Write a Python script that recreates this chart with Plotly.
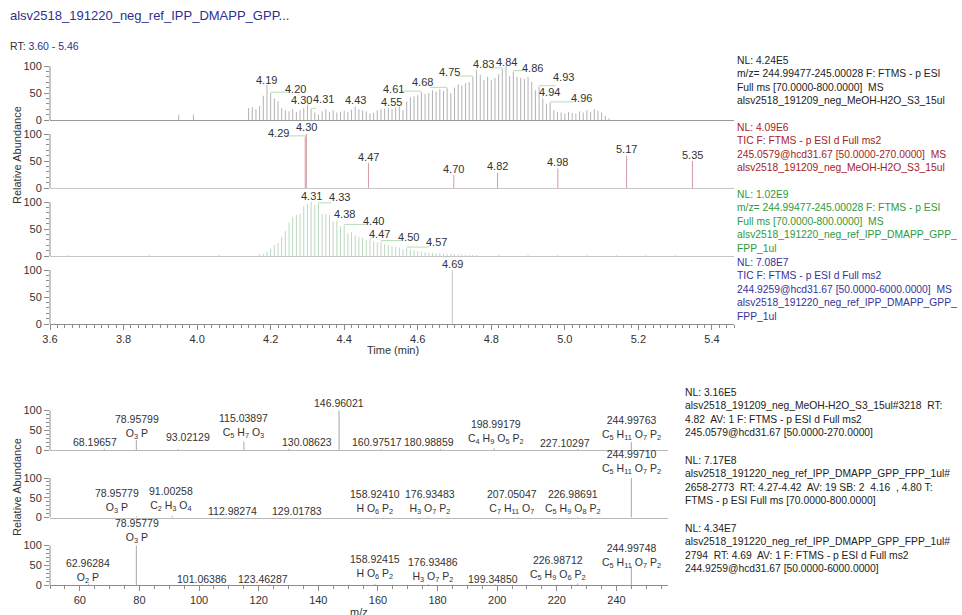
import re
import plotly.graph_objects as go

W, H = 962, 615

# ---------------------------------------------------------------------------
# Chromatograms (relative abundance, % vs retention time, min)
# ---------------------------------------------------------------------------
# 1) sample MeOH-H2O_S3: XIC m/z 244.99477-245.00028, Full MS
xic_smp_rt = [3.95, 3.99,
              4.14, 4.15, 4.16, 4.17, 4.18, 4.19, 4.20, 4.21, 4.22, 4.23,
              4.24, 4.25, 4.26, 4.27, 4.28, 4.29, 4.30, 4.31, 4.32, 4.33,
              4.34, 4.35, 4.36, 4.37, 4.38, 4.39, 4.40, 4.41, 4.42, 4.43,
              4.44, 4.45, 4.46, 4.47, 4.48, 4.49, 4.50, 4.51, 4.52, 4.53,
              4.54, 4.55, 4.56, 4.57, 4.58, 4.59, 4.60, 4.61, 4.62, 4.63,
              4.64, 4.65, 4.66, 4.67, 4.68, 4.69, 4.70, 4.71, 4.72, 4.73,
              4.74, 4.75, 4.76, 4.77, 4.78, 4.79, 4.80, 4.81, 4.82, 4.83,
              4.84, 4.85, 4.86, 4.87, 4.88, 4.89, 4.90, 4.91, 4.92, 4.93,
              4.94, 4.95, 4.96, 4.97, 4.98, 4.99, 5.00, 5.01, 5.02, 5.03,
              5.04, 5.05, 5.06, 5.07, 5.08, 5.09, 5.10, 5.11, 5.12]
xic_smp_ab = [10, 10,
              22, 24, 20, 26, 45, 65, 50, 40, 35, 22,
              18, 16, 20, 15, 18, 22, 28, 20, 14, 10,
              16, 20, 15, 18, 14, 15, 17, 15, 19, 25,
              20, 18, 16, 12, 13, 18, 20, 21, 22, 20,
              23, 25, 18, 34, 42, 44, 46, 52, 48, 50,
              55, 53, 57, 54, 59, 50, 60, 66, 64, 68,
              70, 80, 92, 84, 74, 80, 74, 78, 85, 95,
              100, 82, 90, 80, 78, 76, 80, 70, 55, 62,
              40, 30, 32, 18, 15, 14, 12, 15, 13, 12,
              16, 14, 18, 15, 20, 17, 14, 8, 3]
xic_smp_peaks = [4.19, 4.20, 4.30, 4.31, 4.43, 4.55, 4.61, 4.68,
                 4.75, 4.83, 4.84, 4.86, 4.93, 4.94, 4.96]

# 2) sample: TIC, MS2 of 245.0579@hcd31.67
tic_smp_rt = [4.294, 4.297, 4.466, 4.698, 4.817, 4.981, 5.168, 5.347]
tic_smp_ab = [95, 100, 46, 24, 28, 36, 60, 50]
tic_smp_peaks = tic_smp_rt

# 3) reference IPP/DMAPP/GPP/FPP mix: XIC m/z 244.99477-245.00028
xic_ref_rt = [3.65, 3.87, 4.06,
              4.17, 4.18, 4.19, 4.20, 4.21, 4.22, 4.23, 4.24, 4.25, 4.26,
              4.27, 4.28, 4.29, 4.30, 4.31, 4.32, 4.33, 4.34, 4.35, 4.36,
              4.37, 4.38, 4.39, 4.40, 4.41, 4.42, 4.43, 4.44, 4.45, 4.46,
              4.47, 4.48, 4.49, 4.50, 4.51, 4.52, 4.53, 4.54, 4.55, 4.56,
              4.57, 4.58, 4.59, 4.60, 4.61, 4.62, 4.63, 4.64, 4.65, 4.66,
              4.67, 4.68, 4.69, 4.70, 4.71, 4.72, 4.73, 4.74, 4.75, 4.76,
              4.82, 4.90, 4.98, 5.06, 5.14, 5.22, 5.30]
xic_ref_ab = [1.5, 1.5, 2,
              3, 4, 8, 14, 20, 24, 35, 46, 62, 72,
              76, 78, 92, 96, 100, 94, 97, 78, 77, 76,
              64, 66, 55, 57, 42, 44, 38, 36, 34, 30,
              32, 27, 25, 27, 22, 20, 18, 17, 16, 13,
              15, 12, 10, 9, 8, 7, 6, 6, 5, 5,
              4, 4, 4, 3, 3, 3, 2, 2, 2, 2,
              2, 2, 1.5, 1.5, 1.5, 1.5, 1.5]
xic_ref_peaks = [4.31, 4.33, 4.38, 4.40, 4.47, 4.50, 4.57]

# 4) reference: TIC, MS2 of 244.9259@hcd31.67
tic_ref_rt = [4.694]
tic_ref_ab = [100]
tic_ref_peaks = tic_ref_rt

# ---------------------------------------------------------------------------
# Spectra (relative abundance, % vs m/z)
# ---------------------------------------------------------------------------
msms_smp_mz = [68.19657, 78.95799, 93.02129, 115.03897, 130.08623, 146.96021,
               160.97517, 180.98859, 198.99179, 227.10297, 244.99763]
msms_smp_ab = [3, 25, 2, 21, 3, 100, 2, 2, 4, 2, 20]
msms_smp_formula = ["", "O3P", "", "C5H7O3", "", "", "", "", "C4H9O5P2", "",
                    "C5H11O7P2"]

ms_ref_mz = [78.95779, 91.00258, 112.98274, 129.01783, 158.92410, 176.93483,
             207.05047, 226.98691, 244.99710]
ms_ref_ab = [3, 4, 1.5, 1.5, 2, 2, 1.5, 2, 100]
ms_ref_formula = ["O3P", "C2H3O4", "", "", "HO6P2", "H3O7P2", "C7H11O7",
                  "C5H9O8P2", "C5H11O7P2"]

msms_ref_mz = [62.96284, 78.95779, 101.06386, 123.46287, 158.92415, 176.93486,
               199.34850, 226.98712, 244.99748]
msms_ref_ab = [3, 100, 1.5, 1.5, 3, 2, 1.5, 4, 47]
msms_ref_formula = ["O2P", "O3P", "", "", "HO6P2", "H3O7P2", "", "C5H9O6P2",
                    "C5H11O7P2"]

# ---------------------------------------------------------------------------
# Label placement (offset of each label centre from its peak top: dx, dy%)
# ---------------------------------------------------------------------------
xic_smp_lab_off = [(0, 10), (0.068, 7), (-0.016, 9), (0.033, 19), (0, 12),
                   (-0.022, 8), (-0.077, 5), (-0.066, 11), (-0.063, 8),
                   (-0.05, 9), (0, 8), (0.053, 6), (0.065, 17), (0.018, 12),
                   (0.084, 9)]
tic_smp_lab_off = [(-0.072, 6), (0, 13), (0, 12), (0, 12), (0, 12), (0, 12),
                   (0, 12), (0, 12)]
xic_ref_lab_off = [(0, 12), (0.056, 12), (0.02, 12), (0.08, 8), (0.025, 8),
                   (0.075, 9), (0.081, 10)]
tic_ref_lab_off = [(0, 12)]

msms_smp_lab_off = [(-3.2, 17), (0.1, 33), (3.2, 31), (-0.3, 40), (6.1, 17),
                    (0, 20), (-1.3, 18), (-4, 18), (0.3, 42), (-4.3, 16),
                    (0.2, 36)]
ms_ref_lab_off = [(-6.6, 39), (-0.5, 43), (-1.7, 15), (3.8, 15), (0, 37),
                  (0.5, 37), (-2, 37), (-1.6, 37), (0.2, 40)]
msms_ref_lab_off = [(-0.3, 32), (0.1, 37), (-0.2, 14), (-2, 14), (0, 43),
                    (1.5, 36), (-0.7, 14), (-6.6, 39), (0.2, 26)]

# ---------------------------------------------------------------------------
FONT = "Liberation Sans, Arial, sans-serif"
TXT = "#333333"
AXC = "#8c8c8c"
C_TITLE = "#2e3192"
C_RED = "#a3231f"
C_GREEN = "#2f9a3c"
C_BLUE = "#34349a"


def px_x(p):
    return p / W


def px_y(p):
    return 1 - p / H


def sticks(xs, ys):
    X, Y = [], []
    for x, y in zip(xs, ys):
        X += [x, x, None]
        Y += [0, y, None]
    return X, Y


def formula_html(f):
    parts = re.findall(r"([A-Z][a-z]?)(\d*)", f)
    return " ".join(el + (f"<sub>{n}</sub>" if n else "") for el, n in parts)


def peak_height(rts, abs_, rt):
    i = min(range(len(rts)), key=lambda k: abs(rts[k] - rt))
    return abs_[i]


fig = go.Figure()
annotations = []
shapes = []
layout = {}

# ---- geometry --------------------------------------------------------------
top_x_dom = [px_x(50), px_x(734)]
bot_x_dom = [px_x(50), px_x(668)]
top_base = [120, 188, 256, 324]
top_span = 68.0
top_full = 54.0
bot_base = [450, 517.5, 585]
bot_span = 67.5
bot_full = 39.5
top_rng = [0, 100 * top_span / top_full]
bot_rng = [0, 100 * bot_span / bot_full]

minor_y = [10, 20, 30, 40, 60, 70, 80, 90]
rt_ticks = [3.6, 3.8, 4.0, 4.2, 4.4, 4.6, 4.8, 5.0, 5.2, 5.4]
rt_minor = [round(3.6 + 0.02 * k, 2) for k in range(0, 94)]
mz_ticks = [60, 80, 100, 120, 140, 160, 180, 200, 220, 240]
mz_minor = [50 + 5 * k for k in range(0, 42)]


def axis_names(n):
    s = "" if n == 1 else str(n)
    return "x" + s, "y" + s, "xaxis" + s, "yaxis" + s


def setup_axes(n, xdom, base, span, rng_x, rng_y, bottom, ticks, tick_fmt,
               minor, base_color):
    xn, yn, xk, yk = axis_names(n)
    ydom = [px_y(base), px_y(base - span)]
    xa = dict(domain=xdom, anchor=yn, range=rng_x, showgrid=False,
              zeroline=False, showline=True, linecolor=base_color,
              linewidth=1, fixedrange=True)
    if bottom:
        xa.update(ticks="outside", ticklen=5, tickwidth=1, tickcolor=AXC,
                  tickvals=ticks, ticktext=[tick_fmt.format(t) for t in ticks],
                  tickfont=dict(size=11, color=TXT, family=FONT),
                  minor=dict(tickmode="array", tickvals=minor, ticks="outside",
                             ticklen=3, tickcolor=AXC, tickwidth=1))
    else:
        xa.update(ticks="", showticklabels=False)
    ya = dict(domain=ydom, anchor=xn, range=rng_y, showgrid=False,
              zeroline=False, showline=False, ticks="outside", ticklen=5,
              tickwidth=1, tickcolor=AXC, tickvals=[0, 50, 100],
              ticktext=["0", "50", "100"],
              tickfont=dict(size=11, color=TXT, family=FONT),
              minor=dict(tickmode="array", tickvals=minor_y, ticks="outside",
                         ticklen=3, tickcolor=AXC, tickwidth=1),
              fixedrange=True)
    layout[xk] = xa
    layout[yk] = ya
    shapes.append(dict(type="line", xref=xn + " domain", yref=yn, x0=0, x1=0,
                       y0=0, y1=100, line=dict(color=AXC, width=1)))
    return xn, yn


def chrom_panel(n, rts, abs_, peaks, offs, color, leader=True):
    xn, yn = axis_names(n)[:2]
    X, Y = sticks(rts, abs_)
    fig.add_trace(go.Scatter(x=X, y=Y, xaxis=xn, yaxis=yn, mode="lines",
                             line=dict(color=color, width=1),
                             hoverinfo="skip"))
    LX, LY = [], []
    for rt, (dx, dy) in zip(peaks, offs):
        h = peak_height(rts, abs_, rt)
        annotations.append(dict(x=rt + dx, y=h + dy, xref=xn, yref=yn,
                                text=f"{rt:.2f}", showarrow=False,
                                font=dict(size=11, color=TXT, family=FONT),
                                xanchor="center", yanchor="middle"))
        if leader and abs(dx) > 0.01:
            end = rt + dx - (0.02 if dx > 0 else -0.02)
            LX += [rt, end, None]
            LY += [h + 1.5, h + 1.5, None]
    if LX:
        fig.add_trace(go.Scatter(x=LX, y=LY, xaxis=xn, yaxis=yn, mode="lines",
                                 line=dict(color="#b6dcb9", width=1),
                                 hoverinfo="skip"))


def spec_panel(n, mzs, abs_, formulas, offs, color):
    xn, yn = axis_names(n)[:2]
    X, Y = sticks(mzs, abs_)
    fig.add_trace(go.Scatter(x=X, y=Y, xaxis=xn, yaxis=yn, mode="lines",
                             line=dict(color=color, width=1),
                             hoverinfo="skip"))
    for mz, ab, f, (dx, dy) in zip(mzs, abs_, formulas, offs):
        txt = f"{mz:.5f}"
        if f:
            txt += "<br>" + formula_html(f)
        annotations.append(dict(x=mz + dx, y=ab + dy, xref=xn, yref=yn,
                                text=txt, showarrow=False,
                                font=dict(size=10.5, color=TXT, family=FONT),
                                xanchor="center", yanchor="middle"))


# ---- chromatogram stack ----------------------------------------------------
base_cols = ["#9a9a9a", "#c6c6c6", "#c6c6c6", AXC]
for k in range(4):
    setup_axes(k + 1, top_x_dom, top_base[k], top_span, [3.6, 5.46], top_rng,
               k == 3, rt_ticks, "{:.1f}", rt_minor, base_cols[k])

chrom_panel(1, xic_smp_rt, xic_smp_ab, xic_smp_peaks, xic_smp_lab_off, "#b2b2b2")
chrom_panel(2, tic_smp_rt, tic_smp_ab, tic_smp_peaks, tic_smp_lab_off, "#d59aa5")
chrom_panel(3, xic_ref_rt, xic_ref_ab, xic_ref_peaks, xic_ref_lab_off, "#bcd8c0")
chrom_panel(4, tic_ref_rt, tic_ref_ab, tic_ref_peaks, tic_ref_lab_off, "#c4c4cc")

# ---- spectrum stack --------------------------------------------------------
for k in range(3):
    setup_axes(k + 5, bot_x_dom, bot_base[k], bot_span, [50, 257.3], bot_rng,
               k == 2, mz_ticks, "{:d}", mz_minor,
               "#b8b8b8" if k < 2 else AXC)

spec_panel(5, msms_smp_mz, msms_smp_ab, msms_smp_formula, msms_smp_lab_off, "#a6a6a6")
spec_panel(6, ms_ref_mz, ms_ref_ab, ms_ref_formula, ms_ref_lab_off, "#a6a6a6")
spec_panel(7, msms_ref_mz, msms_ref_ab, msms_ref_formula, msms_ref_lab_off, "#a6a6a6")


# ---- header / axis titles ------------------------------------------------
def paper_text(x, y, text, size=11, color=TXT, xanchor="left", angle=0,
               yanchor="middle", align="left"):
    annotations.append(dict(x=px_x(x), y=px_y(y), xref="paper", yref="paper",
                            text=text, showarrow=False, textangle=angle,
                            font=dict(size=size, color=color, family=FONT),
                            xanchor=xanchor, yanchor=yanchor, align=align))


paper_text(8, 16, "alsv2518_191220_neg_ref_IPP_DMAPP_GPP...", size=13,
           color=C_TITLE)
paper_text(8, 46, f"RT: <span style='color:{C_TITLE}'>3.60 - 5.46</span>",
           size=10.5, color=TXT)
paper_text(17, 155, "Relative Abundance", size=11, xanchor="center", angle=-90)
paper_text(17, 487, "Relative Abundance", size=11, xanchor="center", angle=-90)
paper_text(393, 350, "Time (min)", size=11, xanchor="center")
paper_text(359, 612, "m/z", size=11, xanchor="center")

# ---- trace information blocks -------------------------------------------
info_blocks = [
    (735, 53, "#222222", ["NL: 4.24E5",
                          "m/z= 244.99477-245.00028 F: FTMS - p ESI",
                          "Full ms [70.0000-800.0000]&nbsp; MS",
                          "alsv2518_191209_neg_MeOH-H2O_S3_15ul"]),
    (735, 120, C_RED, ["NL: 4.09E6",
                       "TIC F: FTMS - p ESI d Full ms2",
                       "245.0579@hcd31.67 [50.0000-270.0000]&nbsp; MS",
                       "alsv2518_191209_neg_MeOH-H2O_S3_15ul"]),
    (735, 187, C_GREEN, ["NL: 1.02E9",
                         "m/z= 244.99477-245.00028 F: FTMS - p ESI",
                         "Full ms [70.0000-800.0000]&nbsp; MS",
                         "alsv2518_191220_neg_ref_IPP_DMAPP_GPP_",
                         "FPP_1ul"]),
    (735, 255, C_BLUE, ["NL: 7.08E7",
                        "TIC F: FTMS - p ESI d Full ms2",
                        "244.9259@hcd31.67 [50.0000-6000.0000]&nbsp; MS",
                        "alsv2518_191220_neg_ref_IPP_DMAPP_GPP_",
                        "FPP_1ul"]),
    (683, 385, "#222222", ["NL: 3.16E5",
                           "alsv2518_191209_neg_MeOH-H2O_S3_15ul#3218&nbsp; RT:",
                           "4.82&nbsp; AV: 1 F: FTMS - p ESI d Full ms2",
                           "245.0579@hcd31.67 [50.0000-270.0000]"]),
    (683, 453, "#222222", ["NL: 7.17E8",
                           "alsv2518_191220_neg_ref_IPP_DMAPP_GPP_FPP_1ul#",
                           "2658-2773&nbsp; RT: 4.27-4.42&nbsp; AV: 19 SB: 2&nbsp; 4.16&nbsp; , 4.80 T:",
                           "FTMS - p ESI Full ms [70.0000-800.0000]"]),
    (683, 521, "#222222", ["NL: 4.34E7",
                           "alsv2518_191220_neg_ref_IPP_DMAPP_GPP_FPP_1ul#",
                           "2794&nbsp; RT: 4.69&nbsp; AV: 1 F: FTMS - p ESI d Full ms2",
                           "244.9259@hcd31.67 [50.0000-6000.0000]"]),
]
for left, top, col, lines in info_blocks:
    paper_text(left, top, "<br>".join(lines), size=10.3, color=col,
               yanchor="top")

fig.update_layout(
    width=W, height=H, template="none",
    margin=dict(l=0, r=0, t=0, b=0, pad=0),
    paper_bgcolor="white", plot_bgcolor="rgba(0,0,0,0)",
    showlegend=False, hovermode=False,
    font=dict(family=FONT, size=11, color=TXT),
    annotations=annotations, shapes=shapes, **layout)

fig.write_html("out.html", config={"displayModeBar": False})
